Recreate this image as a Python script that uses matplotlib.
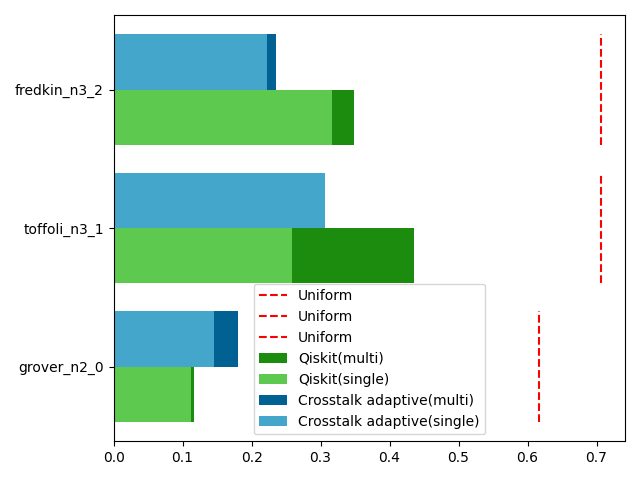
import numpy as np
import matplotlib
matplotlib.use('Agg')
import matplotlib.pyplot as plt

circuits = ['grover_n2_0', 'toffoli_n3_1', 'fredkin_n3_2']
qiskit_multi = [0.116, 0.435, 0.349]
qiskit_single = [0.112, 0.258, 0.316]
xtalk_multi = [0.180, 0.307, 0.235]
xtalk_single = [0.145, 0.307, 0.223]
uniform = [0.616, 0.706, 0.706]

y = np.arange(len(circuits))
h = 0.4

fig, ax = plt.subplots(figsize=(6.4, 4.8), dpi=100)
for i, u in enumerate(uniform):
    ax.vlines(u, y[i] - 0.4, y[i] + 0.4, colors='red', linestyles='dashed', label='Uniform')
ax.barh(y - 0.2, qiskit_multi, height=h, color='#1c8c0e', label='Qiskit(multi)')
ax.barh(y - 0.2, qiskit_single, height=h, color='#5ec94f', label='Qiskit(single)')
ax.barh(y + 0.2, xtalk_multi, height=h, color='#006192', label='Crosstalk adaptive(multi)')
ax.barh(y + 0.2, xtalk_single, height=h, color='#45a6cc', label='Crosstalk adaptive(single)')
ax.set_yticks(y)
ax.set_yticklabels(circuits)
ax.legend(loc='lower center')
fig.tight_layout()
fig.savefig('out.png')
